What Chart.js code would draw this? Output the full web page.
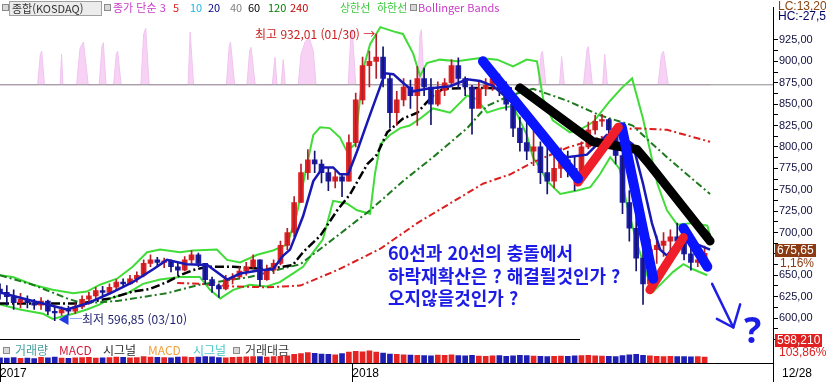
<!DOCTYPE html>
<html lang="ko">
<head>
<meta charset="utf-8">
<title>종합(KOSDAQ)</title>
<script src="https://cdn.jsdelivr.net/npm/chart.js@4.4.1/dist/chart.umd.min.js"></script>
<style>
    body { margin: 0; background: #fff; }
    #quadro { position: relative; width: 826px; height: 382px; overflow: hidden; background: #fff;
              font-family: "Noto Sans CJK KR", "Liberation Sans", sans-serif; }
    #quadro canvas { position: absolute; left: 0; top: 0; }
    .txt { position: absolute; white-space: nowrap; font-size: 11px; line-height: 13px; }
    .quad { position: absolute; width: 5px; height: 5px; border: 1px solid #8a8a8a; background: #d8d8d8; }
    .aviso { position: absolute; white-space: nowrap; font-size: 18px; line-height: 18px; font-weight: bold; color: #1c1ce6; }
    .caixa { position: absolute; white-space: nowrap; font-family: "Liberation Sans", sans-serif; font-size: 12px; line-height: 13px; padding: 0 2px; }
</style>
</head>
<body>
<div id="quadro">
    <canvas id="graficoKosdaq" width="826" height="382"></canvas>

    <!-- legenda superior -->
    <div class="quad" style="left:2px;top:4px"></div>
    <div class="txt" style="left:9px;top:1px;width:89px;height:13px;background:#ececec;border:1px solid #a0a0a0;color:#333;padding-left:2px">종합(KOSDAQ)</div>
    <div class="quad" style="left:104px;top:4px"></div>
    <div class="txt" style="left:113px;top:1px;color:#c83cc8">종가 단순 3</div>
    <div class="txt" style="left:173px;top:1px;color:#e02020">5</div>
    <div class="txt" style="left:190px;top:1px;color:#1eb4e6">10</div>
    <div class="txt" style="left:208px;top:1px;color:#000080">20</div>
    <div class="txt" style="left:230px;top:1px;color:#808080">40</div>
    <div class="txt" style="left:248px;top:1px;color:#000">60</div>
    <div class="txt" style="left:268px;top:1px;color:#008000">120</div>
    <div class="txt" style="left:290px;top:1px;color:#c00000">240</div>
    <div class="txt" style="left:340px;top:1px;color:#3cc83c">상한선</div>
    <div class="txt" style="left:377px;top:1px;color:#3cc83c">하한선</div>
    <div class="quad" style="left:410px;top:4px"></div>
    <div class="txt" style="left:418px;top:1px;color:#c83cc8">Bollinger Bands</div>

    <!-- máximo e mínimo -->
    <div class="txt" style="left:255px;top:27px;color:#c81e1e;font-size:12px">최고 932,01 (01/30) →</div>
    <div class="txt" style="left:58px;top:312px;color:#1e1e6e;font-size:12px"><span style="color:#1e3ce6">◀─</span>최저 596,85 (03/10)</div>

    <!-- comentário -->
    <div class="aviso" style="left:388px;top:243px">60선과 20선의 충돌에서</div>
    <div class="aviso" style="left:388px;top:266px">하락재확산은 ? 해결될것인가 ?</div>
    <div class="aviso" style="left:388px;top:288px">오지않을것인가 ?</div>
    <div class="aviso" style="left:744px;top:312px;font-size:36px;line-height:36px;font-family:'Noto Sans',sans-serif">?</div>

    <!-- painel de volume -->
    <div style="position:absolute;left:0;top:339px;width:580px;height:1px;background:#000"></div>
    <div class="quad" style="left:3px;top:347px"></div>
    <div class="txt" style="left:15px;top:343px;color:#46a0a0;font-size:12px">거래량</div>
    <div class="txt" style="left:59px;top:343px;color:#d21e3c;font-size:12px">MACD</div>
    <div class="txt" style="left:103px;top:343px;color:#282828;font-size:12px">시그널</div>
    <div class="txt" style="left:148px;top:343px;color:#f0a03c;font-size:12px">MACD</div>
    <div class="txt" style="left:193px;top:343px;color:#46c8c8;font-size:12px">시그널</div>
    <div class="quad" style="left:233px;top:347px"></div>
    <div class="txt" style="left:245px;top:343px;color:#404040;font-size:12px">거래대금</div>

    <!-- eixo direito -->
    <div class="caixa" style="left:776px;top:0px;color:#8b4513">LC:13,20</div>
    <div class="caixa" style="left:776px;top:10px;color:#000060">HC:-27,51</div>
    <div class="caixa" style="left:775px;top:244px;background:#8b3a12;color:#fff">675,65</div>
    <div class="caixa" style="left:778px;top:257px;color:#8b3a12">1,16%</div>
    <div class="caixa" style="left:775px;top:334px;background:#e02020;color:#fff">598,210</div>
    <div class="caixa" style="left:777px;top:346px;color:#e02020">103,86%</div>
    <div style="position:absolute;left:773px;top:363px;width:1px;height:19px;background:#000"></div>
    <div class="caixa" style="left:780px;top:367px;color:#000">12/28</div>
</div>

<script>
// velas semanais (índice = semana desde jan/2017)
var alta = [640, 638, 633, 629, 626, 622, 624, 621, 614, 613,
    614, 617, 626, 630, 636, 637, 640, 645, 646, 650,
    654, 668, 674, 671, 670, 668, 664, 672, 679, 676,
    664, 648, 640, 650, 652, 660, 665, 674, 668, 662,
    668, 690, 705, 742, 780, 797, 795, 785, 776, 772,
    768, 814, 863, 905, 912, 932, 917, 885, 865, 880,
    878, 894, 892, 880, 876, 880, 902, 904, 882, 872,
    876, 880, 888, 885, 876, 852, 835, 837, 825, 806,
    799, 791, 799, 795, 788, 806, 829, 837, 838, 833,
    818, 799, 749, 722, 682, 692, 696, 700, 703, 711,
    700, 688, 680, 684];
var baixa = [622, 615, 610, 612, 612, 610, 610, 604, 597, 603,
    604, 605, 611, 616, 622, 625, 628, 632, 636, 639,
    642, 648, 660, 660, 659, 654, 650, 655, 664, 660,
    640, 630, 624, 633, 640, 646, 650, 658, 637, 644,
    652, 662, 680, 695, 735, 762, 770, 758, 749, 752,
    742, 760, 800, 850, 870, 880, 870, 822, 825, 848,
    845, 825, 860, 826, 848, 860, 870, 868, 860, 815,
    850, 860, 866, 860, 843, 812, 795, 785, 778, 757,
    745, 752, 764, 765, 749, 770, 798, 815, 824, 815,
    780, 722, 690, 655, 616, 645, 664, 672, 676, 680,
    668, 656, 660, 664];
var fechamento = [630, 625, 618, 622, 618, 615, 620, 608, 606, 610,
    608, 613, 622, 626, 632, 630, 636, 642, 640, 646,
    650, 664, 668, 665, 667, 660, 656, 668, 674, 664,
    645, 638, 634, 645, 648, 655, 660, 668, 645, 656,
    664, 685, 700, 735, 770, 785, 780, 770, 760, 765,
    760, 805, 855, 895, 900, 905, 880, 840, 855, 870,
    860, 880, 870, 850, 866, 875, 895, 880, 870, 845,
    868, 872, 880, 868, 850, 822, 805, 795, 800, 770,
    760, 775, 785, 775, 765, 800, 820, 830, 832, 820,
    790, 735, 705, 670, 640, 680, 685, 690, 695, 690,
    675, 665, 668, 675.65];
var aberturaInicial = 634;

var volume = [230, 220, 240, 210, 220, 200, 250, 230, 260, 220,
    210, 230, 240, 250, 220, 230, 240, 260, 250, 230,
    240, 280, 260, 250, 240, 230, 260, 270, 250, 260,
    280, 270, 240, 230, 250, 260, 270, 280, 290, 260,
    280, 300, 320, 380, 420, 460, 430, 400, 380, 360,
    420, 480, 520, 500, 540, 480, 440, 400, 380, 360,
    350, 340, 330, 320, 350, 340, 360, 330, 320, 340,
    310, 300, 320, 330, 300, 320, 340, 330, 310, 300,
    290, 300, 310, 300, 320, 330, 340, 320, 310, 300,
    290, 330, 360, 380, 340, 320, 300, 290, 300, 280,
    290, 270, 280, 260];

// indicador rosa do topo: [semana, valor]
var indicador = [[0, 0],
    [5.5, 0], [5.9, 40], [6.1, 44], [6.5, 0],
    [8.8, 0], [9, 40], [9.2, 0],
    [11.2, 0], [11.7, 48], [12.2, 56], [12.9, 0],
    [14.5, 0], [14.9, 50], [15.1, 55], [15.5, 0],
    [16.6, 0], [17, 40], [17.2, 44], [17.7, 0],
    [20.6, 0], [21, 66], [21.3, 74], [21.8, 0],
    [27.5, 0], [27.8, 69], [28.3, 0],
    [33.1, 0], [33.5, 50], [33.7, 56], [34.3, 0],
    [36.1, 0], [36.5, 45], [36.7, 49], [37.3, 0],
    [39.8, 0], [40.2, 36], [40.5, 0],
    [41.1, 0], [41.4, 33], [41.7, 0],
    [43.6, 0], [44, 40], [44.6, 56], [45.2, 62], [45.8, 44], [46.2, 0],
    [50.9, 0], [51.3, 66], [51.5, 72], [52, 0],
    [61.1, 0], [61.4, 66], [61.6, 72], [62, 0],
    [65.7, 0], [66.1, 28], [66.3, 31], [66.9, 0],
    [78.7, 0], [79.1, 40], [79.3, 44], [79.8, 0],
    [81.8, 0], [82.1, 37], [82.5, 0],
    [85.3, 0], [85.8, 46], [86, 50], [86.6, 0],
    [88.1, 0], [88.4, 40], [88.8, 0],
    [96.2, 0], [96.7, 40], [97, 44], [97.7, 0],
    [103.8, 0]];

// médias e bandas: [semana, valor]
var media20 = [[0, 630], [4.8, 620], [9.8, 610], [12.7, 617], [16.1, 629], [19.4, 642], [22.4, 657], [24.4, 668],
    [27.3, 663], [30.3, 662], [33.2, 645], [35.1, 652], [38, 656], [39.9, 657], [41.4, 673], [42.4, 680],
    [44.3, 719], [45.8, 760], [47.2, 776], [48.7, 776], [49.7, 768], [50.9, 768], [52.2, 795], [53.7, 829],
    [55.1, 860], [56.3, 886], [57.5, 885], [58.9, 875], [60.4, 865], [62.4, 868], [65.8, 871], [68.3, 879],
    [70.2, 877], [72.1, 871], [74.6, 854], [77, 837], [80, 803], [82.9, 788], [85.8, 791], [88.7, 814],
    [90.6, 814], [92.5, 803], [94, 757], [95.3, 711], [96.5, 680], [97.5, 673], [99.4, 692], [102.3, 685], [103.8, 680]];
var media60 = [[0, 617], [11.7, 617], [16.1, 623], [19.4, 631], [21.9, 634], [24.4, 642], [26.3, 650], [28.2, 656],
    [30.3, 660], [34.1, 660], [39, 657], [42.8, 662], [44.3, 677], [46.8, 696], [49.3, 726], [51.2, 745],
    [53.7, 780], [55.1, 791], [56.6, 817], [58.9, 833], [61, 840], [63.3, 860], [64.8, 868], [70.2, 869],
    [76, 868], [81.9, 837], [86.7, 808], [90.6, 799], [93.6, 793], [96.5, 763], [100.9, 722], [103.8, 697]];
var media120 = [[0, 650], [4.8, 639], [9.8, 623], [12.1, 617], [17.1, 620], [24.4, 629], [29.2, 639], [36.5, 648],
    [43.9, 663], [49.3, 696], [54.1, 726], [58.9, 760], [63.3, 788], [68.3, 822], [71.2, 848], [74.6, 860],
    [77.9, 868], [82.9, 854], [87.7, 837], [92.5, 825], [95, 806], [97.5, 788], [100.4, 768], [103.8, 745]];
var media240 = [[25.9, 641], [29.2, 640], [34.1, 637], [39, 636], [43.9, 638], [49.3, 656], [55.6, 681], [61, 711],
    [65.8, 734], [70.6, 757], [74.6, 768], [77.9, 782], [82.9, 799], [87.7, 811], [92.5, 822], [97.5, 820], [103.8, 806]];
var bandaSuperior = [[0, 650], [1.9, 648], [4.8, 639], [7.7, 633], [10.7, 629], [12.7, 631], [14.6, 639], [17.1, 646],
    [19.4, 660], [21.5, 677], [23.4, 680], [26.3, 677], [28.2, 679], [31.7, 680], [33.2, 668], [35.1, 665],
    [37.6, 674], [39.9, 679], [42, 686], [43.4, 722], [44.9, 780], [45.8, 814], [46.8, 823], [48.2, 822],
    [49.7, 811], [50.7, 795], [51.9, 803], [53.1, 891], [54.1, 920], [55.6, 940], [57.5, 935], [58.9, 932],
    [60.4, 909], [61.4, 883], [62.4, 898], [64.3, 902], [66.8, 900], [70.2, 904], [72.7, 902], [75, 894],
    [77, 902], [78.5, 900], [79.4, 856], [80.8, 831], [83.3, 817], [85.2, 822], [86.7, 829], [89.2, 854],
    [90.9, 869], [92.4, 880], [94, 833], [96.1, 757], [97.5, 726], [99, 709], [101.3, 711], [103.4, 708], [103.9, 693]];
var bandaInferior = [[0, 616], [2.9, 610], [6.3, 605], [7.7, 599], [10.7, 605], [12.7, 610], [14.6, 616], [16.1, 623],
    [18.6, 629], [20.9, 640], [23.4, 645], [26.3, 648], [29.2, 648], [30.7, 633], [32.2, 623], [34.1, 633],
    [36.5, 639], [39, 637], [40.9, 642], [42.8, 652], [44.3, 660], [45.8, 677], [47.2, 692], [48.7, 737],
    [50.7, 734], [52.2, 726], [54.1, 722], [54.8, 768], [55.6, 803], [57, 814], [58.5, 822], [59.9, 825],
    [61.4, 833], [63.3, 845], [65.8, 840], [68.3, 860], [69.7, 856], [71.2, 840], [73.1, 845], [75, 848],
    [77, 814], [77.9, 788], [78.9, 776], [80, 760], [81.9, 745], [84.4, 749], [86.3, 753], [87.7, 768],
    [89.2, 788], [90.6, 774], [91.7, 730], [93.1, 688], [94.6, 650], [95.5, 631], [96.9, 642], [98.4, 654],
    [99.9, 663], [101.3, 657], [103.4, 650]];

// linhas de tendência desenhadas à mão
var quedaAzul1 = [[70.6, 900], [84.5, 763]];
var altaVermelha1 = [[84.5, 759], [90.4, 823]];
var quedaAzul2 = [[90.9, 823], [95.5, 646]];
var altaVermelha2 = [[95, 633], [99.9, 694]];
var quedaAzul3 = [[99.9, 705], [103.4, 660]];
var tendenciaPreta = [[76, 869], [86.7, 806], [93.1, 797], [94.6, 783], [103.8, 690]];
var setaHaste = [[104.1, 640], [107.2, 589]];
var setaPonta = [[104.8, 599], [107.2, 589], [108.2, 616]];

// eixos
var rotulosAno = ['2017', '2018'];
var semanaAno = [0, 51.5];
var rotulosPreco = [600, 625, 650, 675, 700, 725, 750, 775, 800, 825, 850, 875, 900, 925];


function pontos(lista) {
    return lista.map(function (p) { return { x: p[0], y: p[1] } });
}

var abertura = fechamento.map(function (c, i) { return i == 0 ? aberturaInicial : fechamento[i - 1] });
var corVela = fechamento.map(function (c, i) { return c >= abertura[i] ? '#e62323' : '#1e1eb4' });
var corPavio = fechamento.map(function (c, i) { return c >= abertura[i] ? '#b41e28' : '#14146e' });

function linhaTendencia(lista, cor, largura) {
    return {
        type: 'line',
        data: pontos(lista),
        borderColor: cor,
        borderWidth: largura,
        borderCapStyle: 'round',
        borderJoinStyle: 'round',
        yAxisID: 'y',
        order: 0
    };
}

function linhaMedia(lista, cor, largura, tracejado, ordem) {
    return {
        type: 'line',
        data: pontos(lista),
        borderColor: cor,
        borderWidth: largura,
        borderDash: tracejado,
        yAxisID: 'y',
        order: ordem
    };
}

const graficoKosdaq = document.getElementById('graficoKosdaq');

const data_graficoKosdaq = {
    datasets: [
        linhaTendencia(quedaAzul1, '#0a14ff', 10),
        linhaTendencia(altaVermelha1, '#f01e28', 9),
        linhaTendencia(quedaAzul2, '#0a14ff', 10),
        linhaTendencia(altaVermelha2, '#f01e28', 9),
        linhaTendencia(quedaAzul3, '#0a14ff', 10),
        linhaTendencia(tendenciaPreta, '#000000', 9),
        linhaTendencia(setaHaste, '#1e1ee6', 2.5),
        linhaTendencia(setaPonta, '#1e1ee6', 2.5),
        linhaMedia(media20, '#1818b4', 2.5, [], 2),
        {
            type: 'bar',
            data: alta.map(function (h, i) { return { x: i, y: [baixa[i], h] } }),
            backgroundColor: corPavio,
            barThickness: 1,
            grouped: false,
            yAxisID: 'y',
            order: 3
        },
        {
            type: 'bar',
            data: fechamento.map(function (c, i) { return { x: i, y: [abertura[i], c] } }),
            backgroundColor: corVela,
            barThickness: 5,
            grouped: false,
            yAxisID: 'y',
            order: 3
        },
        linhaMedia(media60, '#000000', 2.5, [9, 3, 2, 3], 4),
        linhaMedia(media120, '#1e7a1e', 2, [7, 3, 2, 3], 4),
        linhaMedia(media240, '#dc1e1e', 2, [7, 3, 2, 3], 4),
        linhaMedia(bandaSuperior, '#40dc38', 2, [], 5),
        linhaMedia(bandaInferior, '#40dc38', 2, [], 5),
        {
            type: 'line',
            data: [{ x: 0, y: 0 }, { x: 113, y: 0 }],
            borderColor: '#8c8c8c',
            borderWidth: 1,
            yAxisID: 'yInd',
            order: 6
        },
        {
            type: 'line',
            data: pontos(indicador),
            borderColor: '#f0c4f0',
            borderWidth: 1,
            backgroundColor: '#f8d2f4',
            fill: 'origin',
            tension: 0,
            yAxisID: 'yInd',
            order: 7
        },
        {
            type: 'bar',
            data: volume.map(function (v, i) { return { x: i, y: v } }),
            backgroundColor: corVela,
            barThickness: 5,
            grouped: false,
            yAxisID: 'yVol',
            order: 8
        }
    ]
};

const config_graficoKosdaq = {
    type: 'line',
    data: data_graficoKosdaq,
    options: {
        responsive: false,
        animation: false,
        layout: { padding: 0 },
        elements: { point: { radius: 0 }, line: { tension: 0 } },
        scales: {
            x: {
                type: 'linear',
                min: 0,
                max: 113,
                offset: false,
                position: 'bottom',
                afterBuildTicks: function (s) {
                    s.ticks = semanaAno.map(function (v) { return { value: v } });
                },
                afterFit: function (s) { s.height = 19 },
                grid: { drawOnChartArea: false, drawTicks: true, tickLength: 19, color: '#000', offset: false },
                border: { display: true, color: '#000' },
                ticks: {
                    autoSkip: false,
                    maxRotation: 0,
                    align: 'start',
                    padding: -16,
                    color: '#000',
                    font: { size: 12, family: 'Liberation Sans' },
                    callback: function (v) { return rotulosAno[semanaAno.indexOf(v)] }
                }
            },
            y: {
                type: 'linear',
                position: 'right',
                min: 547.5,
                max: 962.8,
                afterBuildTicks: function (s) {
                    var t = [];
                    for (var v = 575; v <= 925; v += 12.5) t.push({ value: v });
                    s.ticks = t;
                },
                afterFit: function (s) { s.width = 53 },
                grid: { drawOnChartArea: false, drawTicks: true, tickLength: 5, color: '#000' },
                border: { display: true, color: '#000' },
                ticks: {
                    autoSkip: false,
                    padding: 1,
                    color: '#101040',
                    font: { size: 11, family: 'Liberation Sans' },
                    callback: function (v) {
                        return rotulosPreco.indexOf(v) >= 0 ? v.toFixed(2).replace('.', ',') : '';
                    }
                }
            },
            yVol: { display: false, min: 0, max: 15780 },
            yInd: { display: false, min: -364, max: 101 }
        },
        plugins: {
            legend: { display: false },
            tooltip: { enabled: false }
        }
    }
};

const graficoEmUso = new Chart(graficoKosdaq, config_graficoKosdaq);
</script>
</body>
</html>
